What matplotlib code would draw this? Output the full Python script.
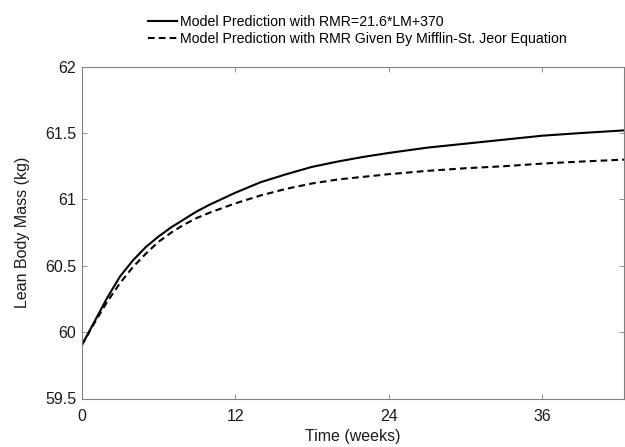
import matplotlib
matplotlib.use("Agg")
import matplotlib.pyplot as plt
from matplotlib.ticker import FuncFormatter

plt.rcParams['font.family'] = ['Liberation Sans', 'DejaVu Sans']

weeks = [0, 1, 2, 3, 4, 5, 6, 7, 8, 9, 10, 12, 14, 16, 18, 20, 22, 24, 27, 30, 33, 36, 39, 42.4]
lbm_linear = [59.90, 60.08, 60.26, 60.42, 60.54, 60.64, 60.72, 60.79, 60.85, 60.91, 60.96,
              61.05, 61.13, 61.19, 61.245, 61.285, 61.32, 61.35, 61.39, 61.42, 61.45, 61.48,
              61.50, 61.52]
lbm_mifflin = [59.90, 60.07, 60.23, 60.37, 60.49, 60.59, 60.68, 60.75, 60.81, 60.86, 60.90,
               60.97, 61.03, 61.08, 61.12, 61.15, 61.17, 61.19, 61.215, 61.235, 61.25, 61.27,
               61.285, 61.30]
label_linear = "Model Prediction with RMR=21.6*LM+370"
label_mifflin = "Model Prediction with RMR Given By Mifflin-St. Jeor Equation"
xticks = [0, 12, 24, 36]
yticks = [59.5, 60, 60.5, 61, 61.5, 62]

W, H = 625, 447
fig = plt.figure(figsize=(W / 100, H / 100), dpi=100)
ax = fig.add_axes([81.7 / W, 1 - 398.5 / H, (624 - 81.7) / W, (398.5 - 66.7) / H])

l1, = ax.plot(weeks, lbm_linear, color='black', lw=1.5, label=label_linear)
l2, = ax.plot(weeks, lbm_mifflin, color='black', lw=1.5, ls=(0, (3.2, 2.0)), label=label_mifflin)

ax.set_xlim(0, 42.4)
ax.set_ylim(59.5, 62)
ax.set_xticks(xticks)
ax.set_yticks(yticks)
ax.yaxis.set_major_formatter(FuncFormatter(lambda v, p: f"{v:g}"))
ax.tick_params(direction='in', length=3.6, width=0.5, color='0.4', labelsize=11.5,
               top=True, right=True, labelcolor='0.1')
ax.tick_params(axis='x', pad=7.5)
ax.tick_params(axis='y', pad=4)
for s in ax.spines.values():
    s.set_linewidth(0.8)
    s.set_color('0.5')

ax.set_xlabel("Time (weeks)", fontsize=11.5, labelpad=4, color='0.1')
ax.set_ylabel("Lean Body Mass (kg)", fontsize=11.5, labelpad=11, color='0.1')

fig.legend(handles=[l1, l2], loc='upper left', bbox_to_anchor=(137 / W, 1 - 4 / H),
           frameon=False, fontsize=10.2, handlelength=2.0, handletextpad=0.22,
           labelspacing=0.22, borderpad=0.3)

fig.savefig("out.png", dpi=100)
